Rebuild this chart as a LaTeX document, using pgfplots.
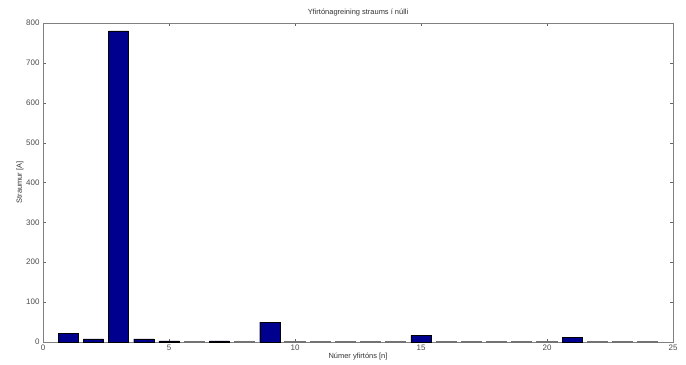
\documentclass[border=0pt]{standalone}
\usepackage{pgfplots}
\pgfplotsset{compat=1.18}
\usepackage{fontspec}
\setmainfont{Liberation Sans}
\definecolor{barblue}{rgb}{0,0,0.5625}
\begin{document}
\begin{tikzpicture}[x=1bp,y=1bp]
\useasboundingbox (0,0) rectangle (686,364);
\begin{axis}[
  at={(43bp,22bp)}, anchor=south west,
  scale only axis, width=630bp, height=319bp,
  xmin=0, xmax=25, ymin=0, ymax=800,
  xtick={0,5,...,25}, ytick={0,100,...,800},
  tick align=inside, major tick length=3bp,
  axis line style={black!50}, tick style={black!60},
  every tick label/.append style={font=\fontsize{8}{9}\selectfont, text=black!70},
  /pgf/number format/assume math mode=true,
  title={Yfirtónagreining straums í núlli},
  title style={font=\fontsize{7.5}{8}\selectfont, text=black!80, yshift=-3bp},
  xlabel={Númer yfirtóns [n]},
  ylabel={Straumur [A]},
  label style={font=\fontsize{7.5}{8}\selectfont, text=black!80},
  xlabel style={yshift=4bp},
  ylabel style={yshift=-4bp},
  xticklabel style={yshift=1bp},
]
\addplot[ybar, bar shift=0pt, bar width=0.8, fill=black!55, draw=black!55, line width=0.9pt] coordinates {
(6,0.5) (8,0.5) (10,0.5) (11,0.5) (12,0.5)
(13,0.5) (14,0.5) (16,0.5) (17,0.5) (18,0.5) (19,0.5) (20,0.5) (22,0.5) (23,0.5) (24,0.5)
};
\addplot[ybar, bar shift=0pt, bar width=0.8, fill=barblue, draw=black, line width=0.4pt] coordinates {
(1,21) (2,8) (3,780) (4,8) (5,3) (7,3) (9,50) (15,17) (21,11)
};
\end{axis}
\end{tikzpicture}
\end{document}
